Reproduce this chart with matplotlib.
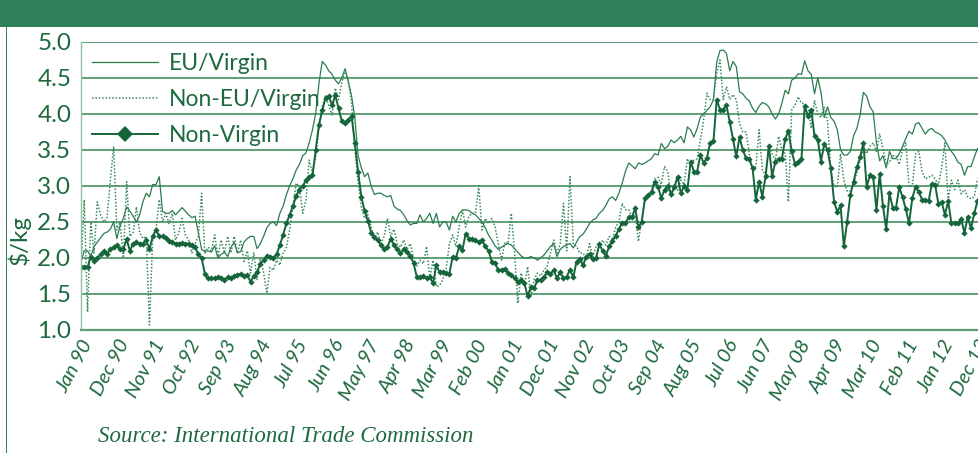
import matplotlib
matplotlib.use("Agg")
import matplotlib.pyplot as plt
from matplotlib.patches import Rectangle
import numpy as np

# Monthly prices, $/kg, Jan 1990 - Dec 2012
eu_virgin = [
    1.95, 2.10, 2.10, 2.02, 2.16, 2.22, 2.28, 2.34, 2.36, 2.40, 2.50, 2.27,
    2.45, 2.55, 2.71, 2.65, 2.58, 2.50, 2.60, 2.78, 2.90, 2.85, 3.02, 3.02,
    3.13, 2.65, 2.62, 2.62, 2.66, 2.60, 2.65, 2.70, 2.65, 2.60, 2.56, 2.58,
    2.35, 2.12, 2.09, 2.10, 2.08, 2.17, 2.00, 2.05, 2.08, 2.02, 2.15, 2.22,
    2.07, 2.09, 2.22, 2.27, 2.30, 2.30, 2.13, 2.20, 2.30, 2.42, 2.48, 2.50,
    2.45, 2.62, 2.72, 2.88, 3.00, 3.10, 3.22, 3.30, 3.42, 3.46, 3.60, 3.78,
    4.01, 4.43, 4.73, 4.68, 4.60, 4.55, 4.47, 4.42, 4.50, 4.63, 4.45, 4.25,
    3.95, 3.42, 3.25, 3.13, 3.18, 3.00, 2.88, 2.90, 2.90, 2.87, 2.85, 2.87,
    2.72, 2.68, 2.66, 2.60, 2.52, 2.46, 2.48, 2.48, 2.60, 2.50, 2.55, 2.62,
    2.48, 2.62, 2.43, 2.50, 2.50, 2.39, 2.58, 2.50, 2.62, 2.66, 2.67, 2.66,
    2.62, 2.60, 2.55, 2.50, 2.42, 2.32, 2.25, 2.17, 2.12, 2.15, 2.18, 2.20,
    2.18, 2.13, 2.08, 2.03, 2.00, 2.00, 2.02, 2.00, 1.97, 2.00, 2.04, 2.10,
    2.16, 2.20, 2.02, 2.12, 2.16, 2.18, 2.20, 2.14, 2.22, 2.30, 2.33, 2.40,
    2.48, 2.53, 2.55, 2.62, 2.66, 2.73, 2.82, 2.85, 2.80, 2.90, 3.04, 3.20,
    3.32, 3.28, 3.24, 3.32, 3.30, 3.32, 3.35, 3.38, 3.45, 3.43, 3.59, 3.52,
    3.55, 3.64, 3.60, 3.64, 3.69, 3.60, 3.82, 3.78, 3.68, 3.80, 3.96, 4.00,
    4.05, 4.10, 4.20, 4.72, 4.88, 4.89, 4.84, 4.60, 4.73, 4.66, 4.31, 4.28,
    4.22, 4.18, 4.08, 4.02, 4.11, 4.16, 4.14, 4.10, 4.00, 3.93, 4.00, 4.15,
    4.33, 4.28, 4.47, 4.50, 4.56, 4.55, 4.74, 4.60, 4.55, 4.28, 4.50, 4.30,
    3.95, 4.10, 3.95, 3.90, 3.78, 3.50, 3.43, 3.43, 3.48, 3.70, 3.80, 3.99,
    4.30, 4.25, 4.10, 4.03, 3.60, 3.35, 3.42, 3.25, 3.48, 3.38, 3.38, 3.45,
    3.55, 3.66, 3.76, 3.72, 3.86, 3.88, 3.80, 3.72, 3.78, 3.80, 3.75, 3.73,
    3.70, 3.64, 3.55, 3.48, 3.42, 3.33, 3.30, 3.15, 3.27, 3.27, 3.40, 3.52,
]

non_eu_virgin = [
    1.90, 2.81, 1.25, 2.50, 2.07, 2.78, 2.60, 2.50, 2.56, 3.08, 3.55, 2.39,
    2.50, 2.00, 3.06, 2.30, 2.35, 2.71, 2.35, 2.27, 2.30, 1.07, 2.30, 2.39,
    2.81, 2.50, 2.62, 2.48, 2.62, 2.25, 2.35, 2.55, 2.32, 2.25, 2.07, 2.20,
    2.30, 2.90, 2.07, 2.15, 2.10, 2.32, 2.02, 2.25, 2.07, 2.30, 2.07, 2.30,
    2.07, 2.25, 1.95, 2.10, 1.79, 2.07, 1.70, 2.00, 1.80, 1.51, 1.87, 1.83,
    1.97, 1.90, 2.07, 2.15, 2.39, 2.72, 3.04, 2.99, 2.62, 2.80, 3.36, 3.18,
    3.40, 3.82, 4.10, 4.25, 4.12, 3.98, 4.36, 4.20, 4.43, 4.61, 4.45, 4.15,
    3.50, 3.05, 2.70, 2.55, 2.60, 2.43, 2.25, 2.36, 2.20, 2.30, 2.55, 2.30,
    2.40, 2.20, 2.15, 2.25, 2.12, 2.20, 2.00, 1.88, 1.97, 1.92, 2.16, 1.72,
    1.97, 1.60, 1.62, 1.70, 1.85, 2.20, 2.32, 2.16, 2.43, 2.67, 2.43, 2.58,
    2.62, 2.62, 3.00, 2.39, 2.55, 2.48, 2.55, 2.43, 2.20, 1.97, 2.22, 2.20,
    2.62, 2.07, 1.37, 1.79, 1.60, 1.88, 1.46, 1.70, 1.79, 1.75, 1.83, 1.88,
    2.07, 2.25, 2.07, 2.20, 2.76, 2.10, 3.13, 2.20, 2.16, 2.07, 2.07, 1.99,
    2.20, 2.02, 2.16, 2.16, 2.25, 2.18, 2.30, 2.25, 2.43, 2.50, 2.76, 2.67,
    2.67, 2.57, 2.60, 2.23, 2.55, 2.82, 2.88, 2.94, 3.10, 3.12, 3.02, 3.27,
    3.20, 2.85, 3.02, 2.94, 3.08, 3.02, 3.38, 3.27, 3.36, 3.38, 3.64, 3.92,
    4.29, 4.20, 4.20, 4.57, 4.75, 4.20, 4.38, 4.20, 4.27, 4.20, 3.87, 3.75,
    3.75, 3.45, 3.22, 3.27, 3.78, 3.22, 3.15, 3.55, 3.45, 3.35, 3.69, 3.50,
    3.45, 2.78, 4.06, 4.12, 4.24, 4.15, 4.14, 4.10, 3.80, 4.19, 4.00, 3.95,
    4.10, 3.90, 3.22, 3.00, 2.98, 3.45, 3.08, 2.93, 2.93, 3.05, 3.18, 3.35,
    3.53, 3.45, 3.55, 3.60, 3.48, 3.72, 3.52, 3.30, 3.33, 3.42, 3.42, 3.30,
    3.50, 3.60, 2.99, 3.00, 3.45, 3.48, 3.20, 3.10, 3.12, 3.15, 3.10, 3.02,
    3.25, 3.60, 2.80, 3.08, 2.95, 3.08, 2.89, 2.95, 2.85, 2.82, 2.85, 3.10,
]

non_virgin = [
    1.88, 1.88, 1.87, 2.02, 1.96, 2.00, 2.05, 2.10, 2.06, 2.12, 2.15, 2.18,
    2.12, 2.12, 2.26, 2.10, 2.20, 2.22, 2.20, 2.20, 2.25, 2.12, 2.30, 2.39,
    2.30, 2.30, 2.28, 2.24, 2.22, 2.20, 2.20, 2.21, 2.20, 2.20, 2.18, 2.15,
    2.05, 2.00, 1.78, 1.72, 1.72, 1.72, 1.73, 1.72, 1.70, 1.73, 1.72, 1.75,
    1.77, 1.78, 1.75, 1.76, 1.67, 1.75, 1.80, 1.92, 1.97, 2.03, 2.02, 2.00,
    2.05, 2.18, 2.32, 2.48, 2.60, 2.72, 2.86, 2.95, 3.00, 3.08, 3.12, 3.15,
    3.50, 3.85, 4.05, 4.22, 4.25, 4.12, 4.26, 4.08, 3.90, 3.88, 3.92, 3.97,
    3.60, 3.20, 2.85, 2.65, 2.52, 2.35, 2.29, 2.25, 2.18, 2.12, 2.15, 2.27,
    2.18, 2.12, 2.07, 2.12, 2.08, 2.03, 1.93, 1.74, 1.73, 1.75, 1.72, 1.73,
    1.65, 1.90, 1.80, 1.80, 1.79, 1.78, 2.02, 2.00, 2.16, 2.11, 2.34, 2.27,
    2.26, 2.25, 2.22, 2.25, 2.16, 2.10, 1.95, 1.93, 1.83, 1.84, 1.85, 1.79,
    1.76, 1.72, 1.67, 1.70, 1.65, 1.47, 1.60, 1.58, 1.69, 1.70, 1.74, 1.80,
    1.78, 1.83, 1.72, 1.80, 1.72, 1.74, 1.84, 1.73, 1.95, 1.99, 1.90, 2.02,
    2.05, 1.98, 2.00, 2.19, 2.10, 2.03, 2.16, 2.23, 2.31, 2.40, 2.49, 2.48,
    2.57, 2.57, 2.69, 2.43, 2.50, 2.83, 2.88, 2.91, 3.06, 2.99, 2.83, 2.95,
    3.00, 2.89, 2.98, 3.13, 2.90, 3.00, 2.94, 3.34, 3.20, 3.20, 3.43, 3.32,
    3.39, 3.60, 3.62, 4.20, 4.06, 4.06, 4.12, 3.89, 3.65, 3.41, 3.68, 3.50,
    3.39, 3.37, 3.25, 2.81, 3.06, 2.85, 3.14, 3.55, 3.14, 3.34, 3.37, 3.38,
    3.65, 3.77, 3.48, 3.31, 3.34, 3.38, 4.11, 3.97, 4.06, 3.69, 3.64, 3.34,
    3.59, 3.50, 3.25, 2.78, 2.64, 2.73, 2.16, 2.50, 2.88, 3.06, 3.26, 3.40,
    3.60, 2.99, 3.15, 3.12, 2.67, 3.17, 2.72, 2.40, 2.90, 2.70, 2.70, 2.98,
    2.85, 2.68, 2.48, 2.83, 2.99, 2.92, 2.81, 2.81, 2.79, 3.03, 3.02, 2.75,
    2.78, 2.60, 2.79, 2.48, 2.48, 2.48, 2.54, 2.35, 2.57, 2.41, 2.62, 2.79,
]

# one label every 11 months, starting Jan 90
tick_labels = ['Jan 90', 'Dec 90', 'Nov 91', 'Oct 92', 'Sep 93', 'Aug 94',
               'Jul 95', 'Jun 96', 'May 97', 'Apr 98', 'Mar 99', 'Feb 00',
               'Jan 01', 'Dec 01', 'Nov 02', 'Oct 03', 'Sep 04', 'Aug 05',
               'Jul 06', 'Jun 07', 'May 08', 'Apr 09', 'Mar 10', 'Feb 11',
               'Jan 12', 'Dec 12']
y_ticks = [1.0, 1.5, 2.0, 2.5, 3.0, 3.5, 4.0, 4.5, 5.0]

# Colors
header_green = '#2f7f59'
text_green = '#1d6a3e'
line_green = '#2a7d4f'
dot_green = '#3b8a5e'
marker_green = '#15653a'
grid_green = '#5f9f78'

W, H = 979, 453
fig = plt.figure(figsize=(W / 100, H / 100), dpi=100, facecolor='white')

# header bar and frame line
fig.patches.append(Rectangle((0, 1 - 27 / H), 1, 27 / H, transform=fig.transFigure,
                             facecolor=header_green, edgecolor='none', zorder=0))
fig.patches.append(Rectangle((6 / W, 0), 1.5 / W, 1 - 27 / H, transform=fig.transFigure,
                             facecolor=header_green, edgecolor='none', zorder=0))

# plot area: 3.26 px per month, runs off the right edge like the original
months = np.arange(len(eu_virgin))
x_max = 278
ax_w = x_max * 3.26
left_px, top_px, bottom_px = 81, 42, 330
ax = fig.add_axes([left_px / W, (H - bottom_px) / H,
                   ax_w / W, (bottom_px - top_px) / H])

ax.plot(months, eu_virgin, color=line_green, linewidth=0.9, label='EU/Virgin')
ax.plot(months, non_eu_virgin, color=dot_green, linewidth=1.1,
        linestyle=(0, (1, 1.2)), label='Non-EU/Virgin')
ax.plot(months, non_virgin, color=marker_green, linewidth=1.4, marker='D',
        markersize=3.2, markeredgewidth=0, label='Non-Virgin')

ax.set_xlim(0, x_max)
ax.set_ylim(1.0, 5.0)
ax.set_yticks(y_ticks)
ax.set_yticklabels([f'{v:.1f}' for v in y_ticks])
ax.yaxis.grid(True, color=grid_green, linewidth=1.4)
ax.set_axisbelow(True)

ax.set_xticks(np.arange(len(tick_labels)) * 11)
ax.set_xticklabels(tick_labels, rotation=62, ha='right', va='top',
                   rotation_mode='anchor', fontsize=14.5, style='italic',
                   color=text_green, family='Lato')
ax.tick_params(axis='both', length=0)
ax.tick_params(axis='x', pad=5)
ax.tick_params(axis='y', pad=7, labelsize=17.5, labelcolor=text_green)
for lbl in ax.get_yticklabels():
    lbl.set_family('Lato')

for side in ['top', 'right']:
    ax.spines[side].set_visible(False)
ax.spines['left'].set_color('#8fbfa0')
ax.spines['left'].set_linewidth(1.0)
ax.spines['bottom'].set_color(grid_green)
ax.spines['bottom'].set_linewidth(1.6)

# y label sits lower than the middle of the axis in the original
ax.set_ylabel('$/kg', fontsize=17.5, color=text_green, family='Lato')
ax.yaxis.set_label_coords(-50 / ax_w, (330 - 240) / 288)

leg = ax.legend(loc='upper left', bbox_to_anchor=(11 / ax_w, 0.962),
                frameon=False, handlelength=2.9, handletextpad=0.45,
                labelspacing=0.66, borderpad=0, borderaxespad=0, markerscale=2.4,
                prop={'family': 'Lato', 'size': 16.5})
for t in leg.get_texts():
    t.set_color(text_green)

fig.text(98 / W, 1 - 436 / H, 'Source: International Trade Commission',
         fontsize=16.5, style='italic', family='Liberation Serif',
         color=text_green, va='center', ha='left')

fig.savefig('out.png', dpi=100, facecolor='white')
